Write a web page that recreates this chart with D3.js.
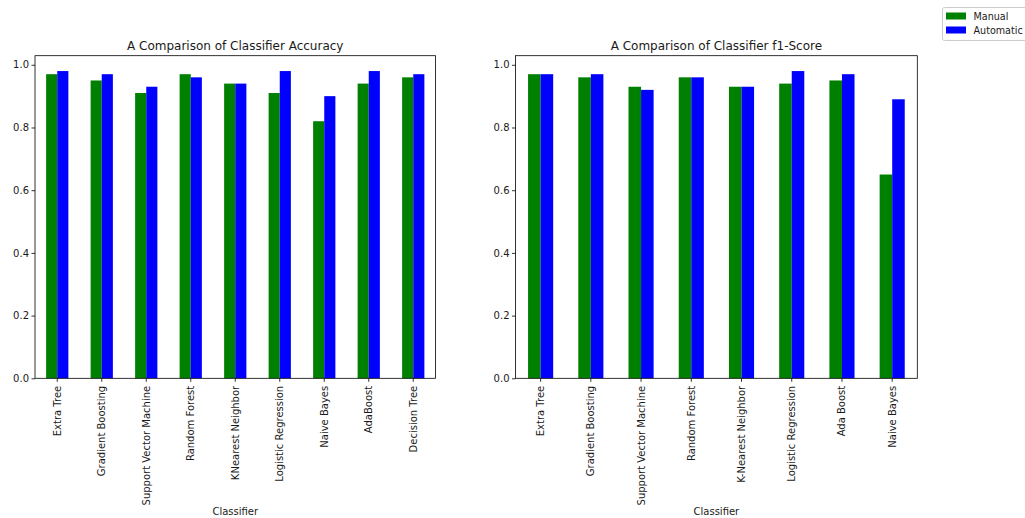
<!DOCTYPE html>
<html>
<head>
<meta charset="utf-8">
<script src="https://cdn.jsdelivr.net/npm/d3@7/dist/d3.min.js"></script>
<style>
  html, body { margin: 0; padding: 0; background: #ffffff; }
  svg { display: block; }
  text { font-family: "DejaVu Sans", sans-serif; fill: #1a1a1a; }
</style>
</head>
<body>
<svg id="chart" width="1025" height="518"></svg>
<script>
// ---- data ----
const seriesNames = ["Manual", "Automatic"];
const seriesColors = ["#008000", "#0000ff"];

const accuracyCategories = ["Extra Tree", "Gradient Boosting", "Support Vector Machine", "Random Forest",
  "KNearest Neighbor", "Logistic Regression", "Naive Bayes", "AdaBoost", "Decision Tree"];
const accuracyManual    = [0.97, 0.95, 0.91, 0.97, 0.94, 0.91, 0.82, 0.94, 0.96];
const accuracyAutomatic = [0.98, 0.97, 0.93, 0.96, 0.94, 0.98, 0.90, 0.98, 0.97];

const f1Categories = ["Extra Tree", "Gradient Boosting", "Support Vector Machine", "Random Forest",
  "K-Nearest Neighbor", "Logistic Regression", "Ada Boost", "Naive Bayes"];
const f1Manual    = [0.97, 0.96, 0.93, 0.96, 0.93, 0.94, 0.95, 0.65];
const f1Automatic = [0.97, 0.97, 0.92, 0.96, 0.93, 0.98, 0.97, 0.89];

const yTicks = [0.0, 0.2, 0.4, 0.6, 0.8, 1.0];
const xAxisLabel = "Classifier";

// ---- layout ----
const svg = d3.select("#chart");
const plotTop = 55.7, plotBottom = 378.3;

function drawPanel(opts) {
  const { left, right, categories, manual, automatic, title } = opts;
  const g = svg.append("g");

  // y range padded 5% above the tallest bar
  const yMax = d3.max(manual.concat(automatic)) * 1.05;
  const y = d3.scaleLinear().domain([0, yMax]).range([plotBottom, plotTop]);

  const x = d3.scaleBand().domain(categories).range([left, right])
    .paddingInner(0.5).paddingOuter(0.25);
  const xs = d3.scaleBand().domain(seriesNames).range([0, x.bandwidth()]);

  const rows = categories.map((c, i) => ({ c, values: [manual[i], automatic[i]] }));

  g.append("g").selectAll("g.group").data(rows).join("g")
    .attr("transform", d => `translate(${x(d.c)},0)`)
    .selectAll("rect").data(d => d.values.map((v, k) => ({ v, k }))).join("rect")
      .attr("x", d => xs(seriesNames[d.k]))
      .attr("width", xs.bandwidth())
      .attr("y", d => y(d.v))
      .attr("height", d => y(0) - y(d.v))
      .attr("fill", d => seriesColors[d.k]);

  // y axis
  const ya = g.append("g").attr("transform", `translate(${left},0)`)
    .call(d3.axisLeft(y).tickValues(yTicks).tickFormat(d3.format(".1f"))
      .tickSize(3.5).tickPadding(2.5));
  ya.select(".domain").remove();
  ya.selectAll("line").attr("stroke", "#000").attr("stroke-width", 0.8);
  ya.selectAll("text").attr("font-size", 10).attr("font-family", "DejaVu Sans").attr("fill", "#1a1a1a");

  // x axis with vertical labels
  const xa = g.append("g").attr("transform", `translate(0,${plotBottom})`)
    .call(d3.axisBottom(x).tickSize(3.5).tickPadding(0));
  xa.select(".domain").remove();
  xa.selectAll("line").attr("stroke", "#000").attr("stroke-width", 0.8);
  xa.selectAll("text")
    .attr("font-size", 10).attr("font-family", "DejaVu Sans").attr("fill", "#1a1a1a")
    .attr("text-anchor", "end")
    .attr("y", 0).attr("dy", "0.35em")
    .attr("transform", "translate(0,7.5) rotate(-90)")
    .attr("x", 0);

  // frame
  g.append("rect")
    .attr("x", left).attr("y", plotTop)
    .attr("width", right - left).attr("height", plotBottom - plotTop)
    .attr("fill", "none").attr("stroke", "#000").attr("stroke-width", 0.8);

  // title and axis label
  g.append("text").attr("x", (left + right) / 2).attr("y", 49.5)
    .attr("text-anchor", "middle").attr("font-size", 12).text(title);
  g.append("text").attr("x", (left + right) / 2).attr("y", 515)
    .attr("text-anchor", "middle").attr("font-size", 10).text(xAxisLabel);
}

drawPanel({ left: 35, right: 435.5, categories: accuracyCategories,
  manual: accuracyManual, automatic: accuracyAutomatic,
  title: "A Comparison of Classifier Accuracy" });
drawPanel({ left: 515.5, right: 917.3, categories: f1Categories,
  manual: f1Manual, automatic: f1Automatic,
  title: "A Comparison of Classifier f1-Score" });

// ---- legend ----
const legend = svg.append("g");
legend.append("rect").attr("x", 942.5).attr("y", 7.5).attr("width", 90).attr("height", 33)
  .attr("rx", 2).attr("fill", "#fff").attr("stroke", "#cccccc").attr("stroke-width", 1);
seriesNames.forEach((name, i) => {
  legend.append("rect").attr("x", 946).attr("y", 12.5 + i * 14).attr("width", 20).attr("height", 7)
    .attr("fill", seriesColors[i]);
  legend.append("text").attr("x", 973.5).attr("y", 19.8 + i * 14).attr("font-size", 9.6).text(name);
});
</script>
</body>
</html>
